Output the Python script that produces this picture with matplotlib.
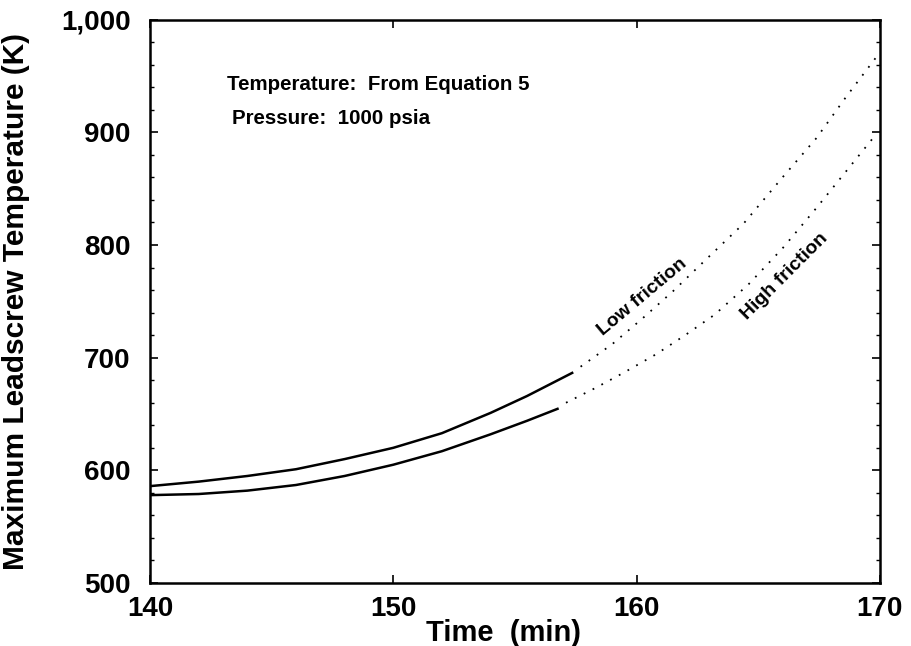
import matplotlib
matplotlib.use("Agg")
import matplotlib.pyplot as plt
from matplotlib.ticker import MultipleLocator, FuncFormatter

# Data
low_solid_t = [140.0, 142.0, 144.0, 146.0, 148.0, 150.0, 152.0, 154.0, 155.5, 157.4]
low_solid_T = [586, 590, 595, 601, 610, 620, 633, 651, 666, 687]
high_solid_t = [140.0, 142.0, 144.0, 146.0, 148.0, 150.0, 152.0, 154.0, 155.5, 156.8]
high_solid_T = [578, 579, 582, 587, 595, 605, 617, 632, 644, 655]

low_dot_t = [157.7, 159.0, 160.2, 161.5, 162.8, 164.4, 166.0, 167.4, 168.6, 169.9]
low_dot_T = [692, 712, 734, 759, 786, 819, 860, 895, 931, 968]
high_dot_t = [157.1, 158.3, 159.5, 160.8, 162.0, 163.2, 164.6, 166.0, 167.4, 168.6, 169.8]
high_dot_T = [660, 673, 687, 703, 720, 738, 765, 797, 833, 865, 897]

x_ticks = [140, 150, 160, 170]
y_ticks = [500, 600, 700, 800, 900, 1000]

plt.rcParams['font.family'] = ['Liberation Sans', 'DejaVu Sans']

fig = plt.figure(figsize=(9.11, 6.46), dpi=100)
ax = fig.add_axes([0.1647, 0.0975, 0.801, 0.872])

ax.plot(low_solid_t, low_solid_T, color='black', lw=1.8, solid_capstyle='butt')
ax.plot(high_solid_t, high_solid_T, color='black', lw=1.8, solid_capstyle='butt')
ax.plot(low_dot_t, low_dot_T, color='black', lw=1.3, linestyle=(0, (1, 4.5)))
ax.plot(high_dot_t, high_dot_T, color='black', lw=1.3, linestyle=(0, (1, 4.5)))

ax.set_xlim(140, 170)
ax.set_ylim(500, 1000)
ax.set_xticks(x_ticks)
ax.set_yticks(y_ticks)
ax.yaxis.set_minor_locator(MultipleLocator(20))
ax.yaxis.set_major_formatter(FuncFormatter(lambda v, p: f"{int(v):,}"))

ax.tick_params(axis='both', which='both', direction='in', top=True, right=True)
ax.tick_params(axis='both', which='major', length=6, width=1.2, labelsize=20, pad=14)
ax.tick_params(axis='x', which='major', pad=9)
ax.tick_params(axis='y', which='minor', length=3, width=1.0)
for lab in ax.get_xticklabels() + ax.get_yticklabels():
    lab.set_fontweight('bold')
for s in ax.spines.values():
    s.set_linewidth(1.8)

ax.set_xlabel("Time  (min)", fontsize=21, fontweight='bold')
ax.xaxis.set_label_coords(0.485, -0.089, transform=ax.transAxes)
ax.xaxis.label.set_verticalalignment('center')
ax.set_ylabel("Maximum Leadscrew Temperature (K)", fontsize=21.5, fontweight='bold')
ax.yaxis.set_label_coords(-0.165, 0.5)

ax.text(0.105, 0.885, "Temperature:  From Equation 5", transform=ax.transAxes,
        fontsize=14.8, fontweight='bold', va='center', ha='left')
ax.text(0.113, 0.825, "Pressure:  1000 psia", transform=ax.transAxes,
        fontsize=14.8, fontweight='bold', va='center', ha='left')

ax.text(160.25, 754, "Low friction", fontsize=14, fontweight='bold',
        rotation=40, ha='center', va='center')
ax.text(166.07, 772, "High friction", fontsize=14, fontweight='bold',
        rotation=45, ha='center', va='center')

fig.savefig("out.png", dpi=100)
